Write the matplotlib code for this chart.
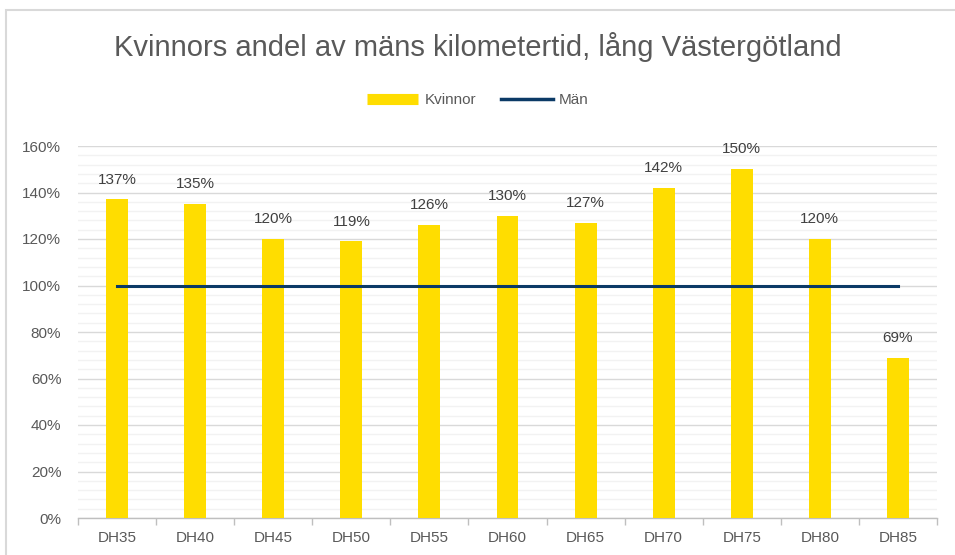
import matplotlib
matplotlib.use('Agg')
import matplotlib.pyplot as plt
import numpy as np
from matplotlib.ticker import MultipleLocator, FuncFormatter
from matplotlib.patches import Rectangle
from matplotlib.lines import Line2D

plt.rcParams['font.family'] = ['Liberation Sans', 'DejaVu Sans']

# Data
categories = ['DH35', 'DH40', 'DH45', 'DH50', 'DH55', 'DH60', 'DH65',
              'DH70', 'DH75', 'DH80', 'DH85']
kvinnor = [137, 135, 120, 119, 126, 130, 127, 142, 150, 120, 69]
man = [100] * len(categories)

title = 'Kvinnors andel av mäns kilometertid, lång Västergötland'
text_color = '#595959'
bar_color = '#FFDD00'
line_color = '#0B3A66'

fig = plt.figure(figsize=(9.55, 5.55), dpi=100)
ax = fig.add_axes([78 / 955, 37 / 555, (937 - 78) / 955, (518 - 146) / 555])

# Outer chart border
fig.patches.append(Rectangle((6 / 955, -0.1), 1.2, (555 - 10) / 555 + 0.1,
                             transform=fig.transFigure, fill=False,
                             edgecolor='#D9D9D9', linewidth=1.5, zorder=0))

x = np.arange(len(categories))
ax.bar(x, kvinnor, width=0.28, color=bar_color, zorder=3)
ax.plot(x, man, color=line_color, linewidth=2.2, zorder=4)

for xi, v in zip(x, kvinnor):
    ax.text(xi, v + 5.5, f'{v}%', ha='center', va='bottom', fontsize=11,
            color='#404040', zorder=5)

ax.set_xlim(-0.5, len(categories) - 0.5)
ax.set_ylim(0, 160)
ax.yaxis.set_major_locator(MultipleLocator(20))
ax.yaxis.set_minor_locator(MultipleLocator(4))
ax.yaxis.set_major_formatter(FuncFormatter(lambda v, p: f'{int(v)}%'))
ax.grid(axis='y', which='major', color='#D9D9D9', linewidth=1.0, zorder=0)
ax.grid(axis='y', which='minor', color='#F2F2F2', linewidth=1.0, zorder=0)
ax.set_axisbelow(True)

ax.set_xticks(x)
ax.set_xticklabels(categories)
ax.set_xticks(np.arange(-0.5, len(categories)), minor=True)
ax.tick_params(axis='x', which='major', length=0, pad=9, labelsize=11,
               labelcolor=text_color)
ax.tick_params(axis='x', which='minor', length=5, color='#BFBFBF', width=1)
ax.tick_params(axis='y', which='both', length=0, pad=12, labelsize=11,
               labelcolor=text_color)

for side in ['top', 'right', 'left']:
    ax.spines[side].set_visible(False)
ax.spines['bottom'].set_color('#BFBFBF')
ax.spines['bottom'].set_linewidth(1)

fig.text(0.5, 1 - 47 / 555, title, ha='center', va='center', fontsize=21,
         color=text_color)

handles = [Line2D([0], [0], color=bar_color, linewidth=8, solid_capstyle='butt'),
           Line2D([0], [0], color=line_color, linewidth=2.5)]
leg = fig.legend(handles, ['Kvinnor', 'Män'], loc='center',
                 bbox_to_anchor=(0.5, 1 - 100 / 555), ncol=2,
                 frameon=False, fontsize=11, handlelength=3.4,
                 columnspacing=1.6, handletextpad=0.4)
for t in leg.get_texts():
    t.set_color(text_color)

fig.savefig('out.png', dpi=100)
